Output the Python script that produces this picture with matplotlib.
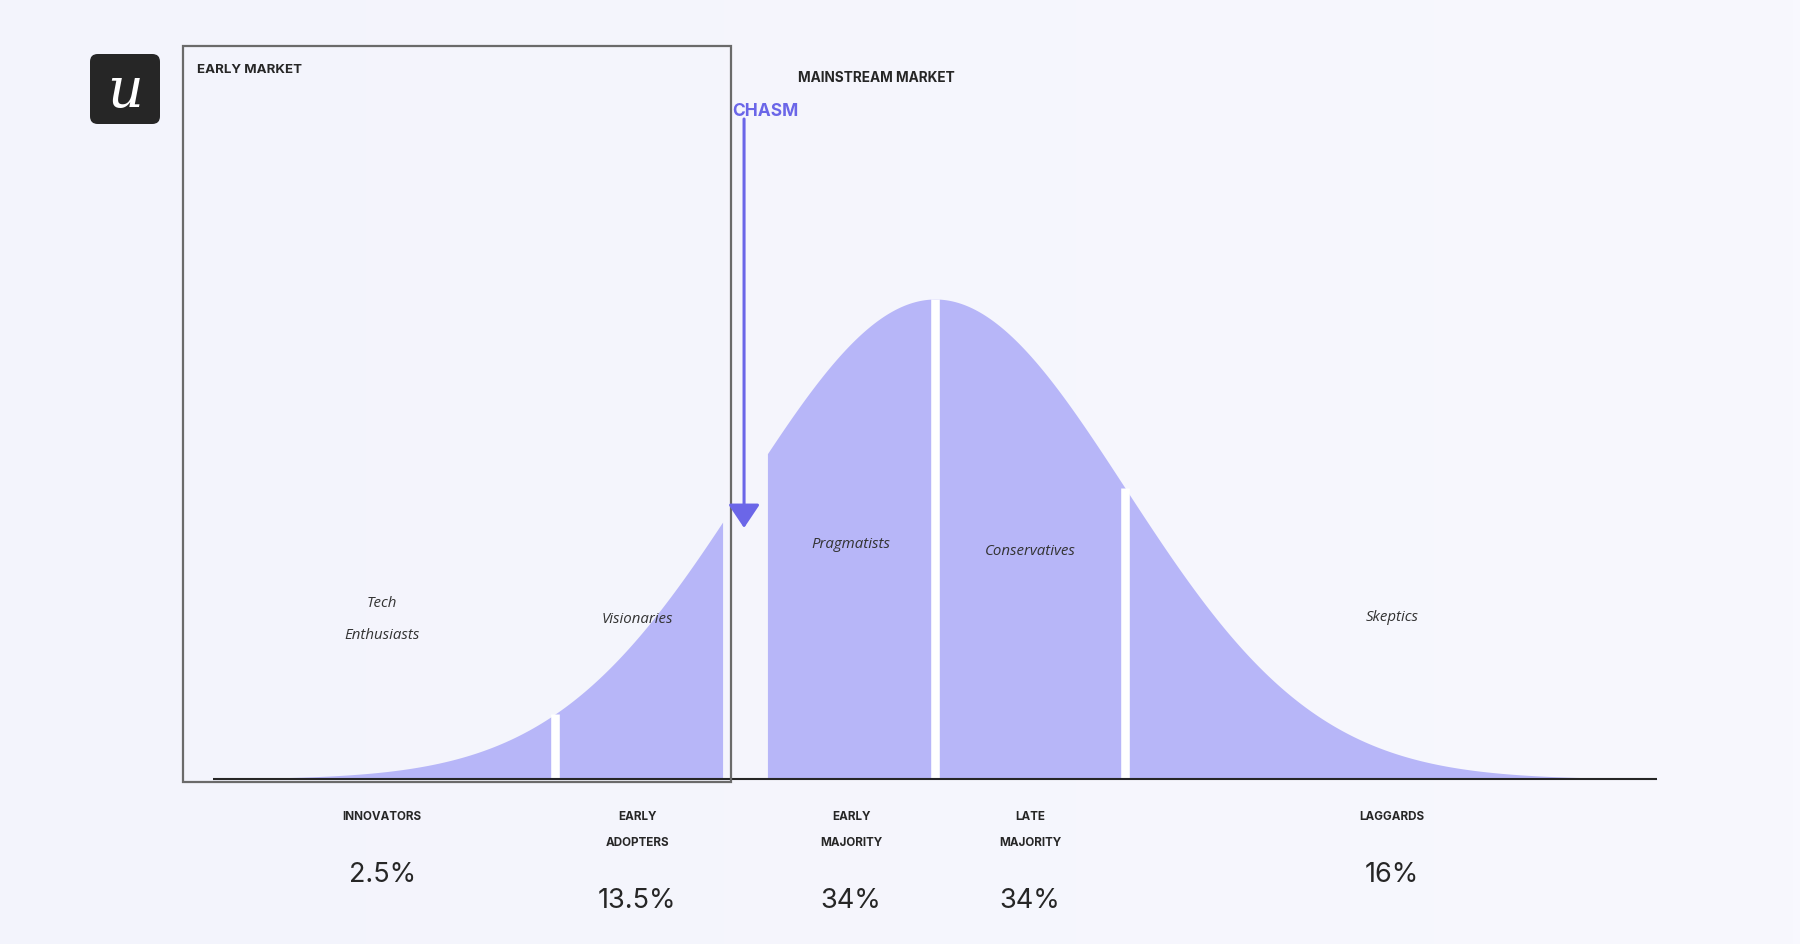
import numpy as np
import matplotlib
matplotlib.use("Agg")
import matplotlib.pyplot as plt
from matplotlib.patches import Rectangle, FancyBboxPatch
from matplotlib.colors import LinearSegmentedColormap

# ---------------- data ----------------
categories = ["INNOVATORS", "EARLY\nADOPTERS", "EARLY\nMAJORITY", "LATE\nMAJORITY", "LAGGARDS"]
shares = ["2.5%", "13.5%", "34%", "34%", "16%"]
personas = ["Tech\nEnthusiasts", "Visionaries", "Pragmatists", "Conservatives", "Skeptics"]
# segment boundaries in standard deviations from the mean
boundaries = [-3.8, -2.0, -1.0, 0.0, 1.0, 3.8]
chasm_halfwidth = 0.118  # gap cut around the early adopters / early majority boundary (sigma)

# ---------------- layout (pixel mapping) ----------------
W, H, DPI = 1800, 945, 100
MU_PX, SIG_PX = 935, 190        # mean position / px per sigma
BASE_PX, PEAK_PX = 780, 480     # baseline y (from top) / curve height

BG = "#F5F5FC"
FILL = "#B7B6F8"
DARK = "#262626"
CHASM_C = "#6B66E8"

fig = plt.figure(figsize=(W / DPI, H / DPI), dpi=DPI, facecolor=BG)
ax = fig.add_axes([0, 0, 1, 1])
ax.set_facecolor(BG)
ax.set_xlim((0 - MU_PX) / SIG_PX, (W - MU_PX) / SIG_PX)
ax.set_ylim((BASE_PX - H) / PEAK_PX, BASE_PX / PEAK_PX)
ax.axis("off")

# subtle background gradient
grad = np.linspace(0, 1, 256)[None, :]
bg_cmap = LinearSegmentedColormap.from_list("bg", ["#F3F4FC", "#F8F8FE"])
ax.imshow(grad, cmap=bg_cmap, aspect="auto", zorder=0,
          extent=[*ax.get_xlim(), *ax.get_ylim()])

def curve(z):
    return np.exp(-0.5 * np.asarray(z) ** 2)

lo, hi = boundaries[0], boundaries[-1]
chasm_at = boundaries[2]
left = np.linspace(lo, chasm_at - chasm_halfwidth, 600)
right = np.linspace(chasm_at + chasm_halfwidth, hi, 1200)
ax.fill_between(left, 0, curve(left), color=FILL, lw=0, zorder=2)
ax.fill_between(right, 0, curve(right), color=FILL, lw=0, zorder=2)

# white dividers
for b in [boundaries[1], boundaries[3], boundaries[4]]:
    ax.vlines(b, 0, curve(b), color="white", lw=6.2, zorder=3)

# baseline
ax.plot([lo, hi], [0, 0], color=DARK, lw=1.5, zorder=4, solid_capstyle="butt")

# early market box
ax.add_patch(Rectangle((-3.96, -0.006), -1.074 + 3.96, 1.527 + 0.006,
                       fill=False, ec="#6a6a6a", lw=1.6, zorder=5))
ax.text(-3.884, 1.479, "EARLY MARKET", ha="left", va="center", fontsize=9.6,
        fontweight="bold", color=DARK, family="Inter", zorder=6)
ax.text(-0.31, 1.4625, "MAINSTREAM MARKET", ha="center", va="center", fontsize=9.8,
        fontweight="bold", color=DARK, family="Inter", zorder=6)

# chasm arrow
ax.text(-1.068, 1.393, "CHASM", ha="left", va="center", fontsize=12.5,
        fontweight="bold", color=CHASM_C, family="Inter", zorder=6)
ax.annotate("", xy=(-1.005, 0.523), xytext=(-1.005, 1.375),
            arrowprops=dict(arrowstyle="-|>,head_length=1.45,head_width=0.97",
                            mutation_scale=10, color=CHASM_C, lw=2.2,
                            shrinkA=0, shrinkB=0),
            zorder=6)

# labels
cat_x = [-2.91, -1.568, -0.442, 0.50, 2.405]
pers_y = [0.335, 0.335, 0.49, 0.477, 0.3375]
for i, (cat, sh, pers) in enumerate(zip(categories, shares, personas)):
    x = cat_x[i]
    lines = cat.split("\n")
    for j, ln in enumerate(lines):
        ax.text(x, -0.077 - 0.054 * j, ln, ha="center", va="center", fontsize=8.4,
                fontweight="bold", color=DARK, family="Inter", zorder=6)
    py = -0.198 if len(lines) == 1 else -0.252
    ax.text(x, py, sh, ha="center", va="center", fontsize=19.5, color=DARK,
            family="Inter", zorder=6)
    plines = pers.split("\n")
    n = len(plines)
    for j, ln in enumerate(plines):
        off = (j - (n - 1) / 2) * 0.067
        ax.text(x, pers_y[i] - off, ln, ha="center", va="center", fontsize=10.8,
                style="italic", color="#333333", family="Open Sans", zorder=6)

# logo
lax = fig.add_axes([90 / W, (H - 125) / H, 70 / W, 70 / H])
lax.set_xlim(0, 1); lax.set_ylim(0, 1); lax.axis("off")
lax.add_patch(FancyBboxPatch((0.0, 0.0), 1, 1, boxstyle="round,pad=0,rounding_size=0.11",
                             fc="#262626", ec="none"))
lax.text(0.5, 0.47, "u", ha="center", va="center", fontsize=40, color="white",
         family="DejaVu Serif", style="italic")

fig.savefig("out.png", dpi=DPI, facecolor=BG)
